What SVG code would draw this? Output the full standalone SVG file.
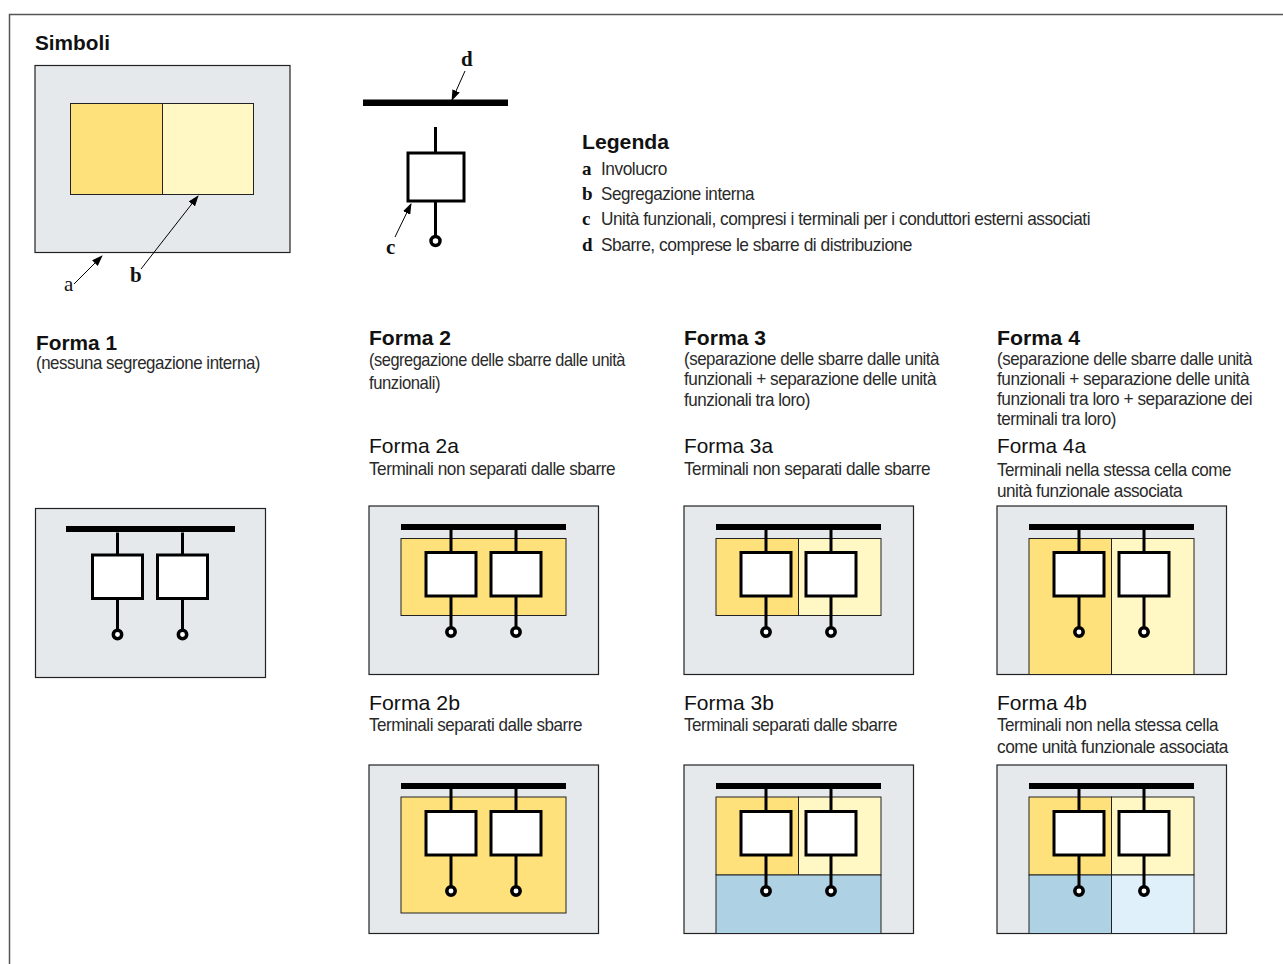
<svg xmlns="http://www.w3.org/2000/svg" width="1283" height="964" viewBox="0 0 1283 964">
<style>
text{font-family:"Liberation Sans",Arial,sans-serif;fill:#111}
.h{font-size:21px;font-weight:700}
.s{font-size:21px}
.t{font-size:18.5px;letter-spacing:-.5px;fill:#2a2a2a}
.l{font-family:"Liberation Serif","Times New Roman",serif;font-size:19px}
.k{font-size:21px}
.b{font-weight:700}
.panel{fill:#e6e9ec;stroke:#222;stroke-width:1.2}
.seg{stroke:#222;stroke-width:1}
.y1{fill:#ffe17b}.y2{fill:#fff7c4}.b1{fill:#aed2e4}.b2{fill:#dff0fa}
.w{fill:none;stroke:#000;stroke-width:3}
.box{fill:#fff;stroke:#000;stroke-width:3}
.dot{fill:#fff;stroke:#000;stroke-width:3.500}
.ar{fill:none;stroke:#000;stroke-width:1;marker-end:url(#ah)}
</style>
<defs>
<marker id="ah" markerUnits="userSpaceOnUse" markerWidth="11" markerHeight="8" refX="10" refY="4" orient="auto"><path d="M0 0L11 4L0 8Z" fill="#000"/></marker>
<g id="wires">
<path class="w" d="M82 24V46M147 24V46M82 90V122M147 90V122"/>
<rect class="box" x="57" y="46.500" width="50" height="43.500"/>
<rect class="box" x="122" y="46.500" width="50" height="43.500"/>
<circle class="dot" cx="82" cy="126" r="4.200"/>
<circle class="dot" cx="147" cy="126" r="4.200"/>
</g>
<g id="circ">
<rect x="32" y="18" width="165" height="6" fill="#000"/>
<use href="#wires"/>
</g>
</defs>
<path id="frame" d="M9.500 964V14.500H1283" fill="none" stroke="#555" stroke-width="1.500"/>

<text class="h" x="35" y="50" textLength="75" lengthAdjust="spacingAndGlyphs">Simboli</text>
<g id="sym-panel">
<rect class="panel" x="35" y="65.500" width="255" height="187"/>
<rect class="y1 seg" x="70.500" y="103.500" width="92" height="91"/>
<rect class="y2 seg" x="162.500" y="103.500" width="91" height="91"/>
</g>
<g id="sym-circuit">
<rect x="363" y="99.500" width="145" height="6.500" fill="#000"/>
<path class="w" d="M435.500 127V153M435.500 201V237"/>
<rect class="box" x="408" y="153" width="56" height="48"/>
<circle class="dot" cx="435.500" cy="241" r="4.500"/>
</g>
<g id="connectors">
<path class="ar" d="M74 284L102 256"/>
<path class="ar" d="M141 269L198 196"/>
<path class="ar" d="M395 237L411 204"/>
<path class="ar" d="M465 71L452 100"/>
</g>
<text class="l k" x="64" y="291">a</text>
<text class="l k b" x="130" y="282">b</text>
<text class="l k b" x="386" y="254">c</text>
<text class="l k b" x="461" y="66">d</text>

<g id="legend">
<text class="h" x="582" y="149" textLength="87" lengthAdjust="spacingAndGlyphs">Legenda</text>
<text class="l b" x="582" y="175">a</text><text class="t" x="601" y="175" textLength="66" lengthAdjust="spacingAndGlyphs">Involucro</text>
<text class="l b" x="582" y="200">b</text><text class="t" x="601" y="200" textLength="153" lengthAdjust="spacingAndGlyphs">Segregazione interna</text>
<text class="l b" x="582" y="225">c</text><text class="t" x="601" y="225" textLength="489" lengthAdjust="spacingAndGlyphs">Unità funzionali, compresi i terminali per i conduttori esterni associati</text>
<text class="l b" x="582" y="251">d</text><text class="t" x="601" y="251" textLength="311" lengthAdjust="spacingAndGlyphs">Sbarre, comprese le sbarre di distribuzione</text>
</g>

<g id="forma1">
<text class="h" x="36" y="350" textLength="81" lengthAdjust="spacingAndGlyphs">Forma 1</text>
<text class="t" x="36" y="369" textLength="224" lengthAdjust="spacingAndGlyphs">(nessuna segregazione interna)</text>
<rect class="panel" x="35.500" y="508.500" width="230" height="169"/>
<g transform="translate(35.500 508.500)"><use href="#wires"/></g>
<rect x="66" y="526" width="169" height="6" fill="#000"/>
</g>

<g id="forma2">
<text class="h" x="369" y="345" textLength="82" lengthAdjust="spacingAndGlyphs">Forma 2</text>
<text class="t" x="369" y="366" textLength="256" lengthAdjust="spacingAndGlyphs">(segregazione delle sbarre dalle unità</text>
<text class="t" x="369" y="389" textLength="71" lengthAdjust="spacingAndGlyphs">funzionali)</text>
<text class="s" x="369" y="453" textLength="90" lengthAdjust="spacingAndGlyphs">Forma 2a</text>
<text class="t" x="369" y="475" textLength="246" lengthAdjust="spacingAndGlyphs">Terminali non separati dalle sbarre</text>
<text class="s" x="369" y="710" textLength="91" lengthAdjust="spacingAndGlyphs">Forma 2b</text>
<text class="t" x="369" y="731" textLength="213" lengthAdjust="spacingAndGlyphs">Terminali separati dalle sbarre</text>
</g>
<g id="forma2a" transform="translate(369 506)">
<rect class="panel" x="0" y="0" width="229.500" height="168.500"/>
<rect class="y1 seg" x="32" y="32.500" width="165" height="77"/>
<use href="#circ"/>
</g>
<g id="forma2b" transform="translate(369 765)">
<rect class="panel" x="0" y="0" width="229.500" height="168.500"/>
<rect class="y1 seg" x="32" y="32" width="165" height="116"/>
<use href="#circ"/>
</g>

<g id="forma3">
<text class="h" x="684" y="345" textLength="82" lengthAdjust="spacingAndGlyphs">Forma 3</text>
<text class="t" x="684" y="365" textLength="255" lengthAdjust="spacingAndGlyphs">(separazione delle sbarre dalle unità</text>
<text class="t" x="684" y="385" textLength="252" lengthAdjust="spacingAndGlyphs">funzionali + separazione delle unità</text>
<text class="t" x="684" y="406" textLength="126" lengthAdjust="spacingAndGlyphs">funzionali tra loro)</text>
<text class="s" x="684" y="453" textLength="89" lengthAdjust="spacingAndGlyphs">Forma 3a</text>
<text class="t" x="684" y="475" textLength="246" lengthAdjust="spacingAndGlyphs">Terminali non separati dalle sbarre</text>
<text class="s" x="684" y="710" textLength="90" lengthAdjust="spacingAndGlyphs">Forma 3b</text>
<text class="t" x="684" y="731" textLength="213" lengthAdjust="spacingAndGlyphs">Terminali separati dalle sbarre</text>
</g>
<g id="forma3a" transform="translate(684 506)">
<rect class="panel" x="0" y="0" width="229.500" height="168.500"/>
<rect class="y1 seg" x="32" y="32.500" width="82.500" height="77"/>
<rect class="y2 seg" x="114.500" y="32.500" width="82.500" height="77"/>
<use href="#circ"/>
</g>
<g id="forma3b" transform="translate(684 765)">
<rect class="panel" x="0" y="0" width="229.500" height="168.500"/>
<rect class="y1 seg" x="32" y="32" width="82.500" height="78"/>
<rect class="y2 seg" x="114.500" y="32" width="82.500" height="78"/>
<rect class="b1 seg" x="32" y="110" width="165" height="58.500"/>
<use href="#circ"/>
</g>

<g id="forma4">
<text class="h" x="997" y="345" textLength="83" lengthAdjust="spacingAndGlyphs">Forma 4</text>
<text class="t" x="997" y="365" textLength="255" lengthAdjust="spacingAndGlyphs">(separazione delle sbarre dalle unità</text>
<text class="t" x="997" y="385" textLength="252" lengthAdjust="spacingAndGlyphs">funzionali + separazione delle unità</text>
<text class="t" x="997" y="405" textLength="255" lengthAdjust="spacingAndGlyphs">funzionali tra loro + separazione dei</text>
<text class="t" x="997" y="425" textLength="119" lengthAdjust="spacingAndGlyphs">terminali tra loro)</text>
<text class="s" x="997" y="453" textLength="89" lengthAdjust="spacingAndGlyphs">Forma 4a</text>
<text class="t" x="997" y="476" textLength="234" lengthAdjust="spacingAndGlyphs">Terminali nella stessa cella come</text>
<text class="t" x="997" y="497" textLength="185" lengthAdjust="spacingAndGlyphs">unità funzionale associata</text>
<text class="s" x="997" y="710" textLength="90" lengthAdjust="spacingAndGlyphs">Forma 4b</text>
<text class="t" x="997" y="731" textLength="221" lengthAdjust="spacingAndGlyphs">Terminali non nella stessa cella</text>
<text class="t" x="997" y="753" textLength="231" lengthAdjust="spacingAndGlyphs">come unità funzionale associata</text>
</g>
<g id="forma4a" transform="translate(997 506)">
<rect class="panel" x="0" y="0" width="229.500" height="168.500"/>
<rect class="y1 seg" x="32" y="32.500" width="82.500" height="136"/>
<rect class="y2 seg" x="114.500" y="32.500" width="82.500" height="136"/>
<use href="#circ"/>
</g>
<g id="forma4b" transform="translate(997 765)">
<rect class="panel" x="0" y="0" width="229.500" height="168.500"/>
<rect class="y1 seg" x="32" y="32" width="82.500" height="78"/>
<rect class="y2 seg" x="114.500" y="32" width="82.500" height="78"/>
<rect class="b1 seg" x="32" y="110" width="82.500" height="58.500"/>
<rect class="b2 seg" x="114.500" y="110" width="82.500" height="58.500"/>
<use href="#circ"/>
</g>
</svg>
